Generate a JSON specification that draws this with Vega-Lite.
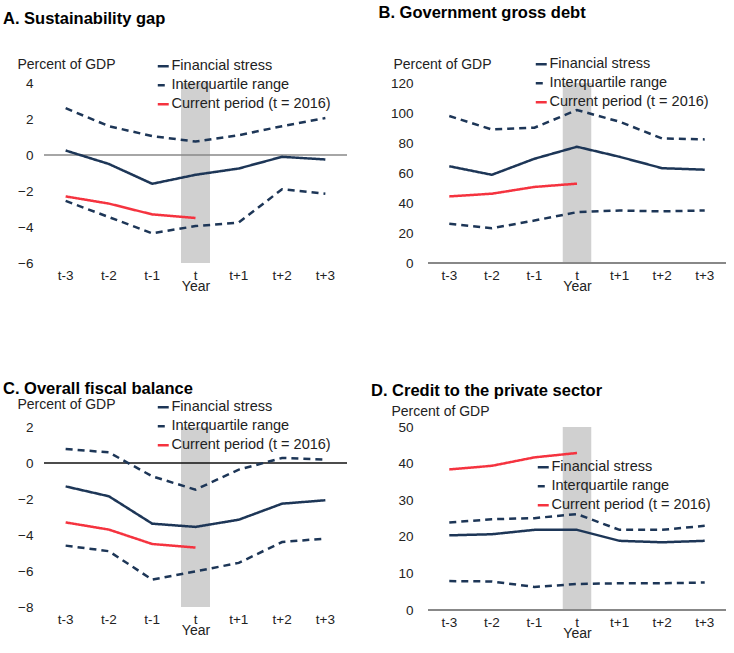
{
  "$schema": "https://vega.github.io/schema/vega-lite/v6.json",
  "background": "white",
  "padding": {"left": 3, "top": 4, "right": 5, "bottom": 5},
  "columns": 2,
  "spacing": {"row": 86, "column": 23},
  "resolve": {"legend": {"color": "independent", "strokeDash": "independent"}},
  "config": {
    "font": "Liberation Sans",
    "view": {"stroke": null},
    "title": {"fontSize": 16.5, "fontWeight": "bold", "anchor": "start", "frame": "bounds", "color": "#000"},
    "axis": {"labelFont": "Liberation Sans", "labelFontSize": 13.5, "labelColor": "#222", "titleFont": "Liberation Sans", "titleFontSize": 14, "titleFontWeight": "normal", "titleColor": "#222", "grid": false, "ticks": false, "domain": false, "labelOverlap": false, "labelFlush": false},
    "legend": {"labelFont": "Liberation Sans", "labelFontSize": 14.5, "labelColor": "#222", "symbolType": "stroke", "symbolStrokeWidth": 2.5, "symbolSize": 120, "rowPadding": 4, "labelOffset": 1, "title": null, "orient": "none"}
  },
  "datasets": {
    "A": [
      {"x": "t-3", "v": 0.25, "series": "Financial stress", "line": "fs"},
      {"x": "t-2", "v": -0.5, "series": "Financial stress", "line": "fs"},
      {"x": "t-1", "v": -1.6, "series": "Financial stress", "line": "fs"},
      {"x": "t", "v": -1.1, "series": "Financial stress", "line": "fs"},
      {"x": "t+1", "v": -0.75, "series": "Financial stress", "line": "fs"},
      {"x": "t+2", "v": -0.1, "series": "Financial stress", "line": "fs"},
      {"x": "t+3", "v": -0.25, "series": "Financial stress", "line": "fs"},
      {"x": "t-3", "v": 2.6, "series": "Interquartile range", "line": "up"},
      {"x": "t-2", "v": 1.6, "series": "Interquartile range", "line": "up"},
      {"x": "t-1", "v": 1.05, "series": "Interquartile range", "line": "up"},
      {"x": "t", "v": 0.75, "series": "Interquartile range", "line": "up"},
      {"x": "t+1", "v": 1.1, "series": "Interquartile range", "line": "up"},
      {"x": "t+2", "v": 1.6, "series": "Interquartile range", "line": "up"},
      {"x": "t+3", "v": 2.05, "series": "Interquartile range", "line": "up"},
      {"x": "t-3", "v": -2.55, "series": "Interquartile range", "line": "lo"},
      {"x": "t-2", "v": -3.45, "series": "Interquartile range", "line": "lo"},
      {"x": "t-1", "v": -4.35, "series": "Interquartile range", "line": "lo"},
      {"x": "t", "v": -3.95, "series": "Interquartile range", "line": "lo"},
      {"x": "t+1", "v": -3.75, "series": "Interquartile range", "line": "lo"},
      {"x": "t+2", "v": -1.9, "series": "Interquartile range", "line": "lo"},
      {"x": "t+3", "v": -2.15, "series": "Interquartile range", "line": "lo"},
      {"x": "t-3", "v": -2.3, "series": "Current period (t = 2016)", "line": "cur"},
      {"x": "t-2", "v": -2.7, "series": "Current period (t = 2016)", "line": "cur"},
      {"x": "t-1", "v": -3.3, "series": "Current period (t = 2016)", "line": "cur"},
      {"x": "t", "v": -3.5, "series": "Current period (t = 2016)", "line": "cur"}
    ],
    "B": [
      {"x": "t-3", "v": 64.5, "series": "Financial stress", "line": "fs"},
      {"x": "t-2", "v": 58.8, "series": "Financial stress", "line": "fs"},
      {"x": "t-1", "v": 69.5, "series": "Financial stress", "line": "fs"},
      {"x": "t", "v": 77.5, "series": "Financial stress", "line": "fs"},
      {"x": "t+1", "v": 70.8, "series": "Financial stress", "line": "fs"},
      {"x": "t+2", "v": 63.2, "series": "Financial stress", "line": "fs"},
      {"x": "t+3", "v": 62.2, "series": "Financial stress", "line": "fs"},
      {"x": "t-3", "v": 98, "series": "Interquartile range", "line": "up"},
      {"x": "t-2", "v": 89, "series": "Interquartile range", "line": "up"},
      {"x": "t-1", "v": 90.2, "series": "Interquartile range", "line": "up"},
      {"x": "t", "v": 102, "series": "Interquartile range", "line": "up"},
      {"x": "t+1", "v": 94.2, "series": "Interquartile range", "line": "up"},
      {"x": "t+2", "v": 83, "series": "Interquartile range", "line": "up"},
      {"x": "t+3", "v": 82.4, "series": "Interquartile range", "line": "up"},
      {"x": "t-3", "v": 26.1, "series": "Interquartile range", "line": "lo"},
      {"x": "t-2", "v": 23.2, "series": "Interquartile range", "line": "lo"},
      {"x": "t-1", "v": 28.3, "series": "Interquartile range", "line": "lo"},
      {"x": "t", "v": 33.9, "series": "Interquartile range", "line": "lo"},
      {"x": "t+1", "v": 35, "series": "Interquartile range", "line": "lo"},
      {"x": "t+2", "v": 34.4, "series": "Interquartile range", "line": "lo"},
      {"x": "t+3", "v": 35, "series": "Interquartile range", "line": "lo"},
      {"x": "t-3", "v": 44.4, "series": "Current period (t = 2016)", "line": "cur"},
      {"x": "t-2", "v": 46.2, "series": "Current period (t = 2016)", "line": "cur"},
      {"x": "t-1", "v": 50.7, "series": "Current period (t = 2016)", "line": "cur"},
      {"x": "t", "v": 52.9, "series": "Current period (t = 2016)", "line": "cur"}
    ],
    "C": [
      {"x": "t-3", "v": -1.3, "series": "Financial stress", "line": "fs"},
      {"x": "t-2", "v": -1.85, "series": "Financial stress", "line": "fs"},
      {"x": "t-1", "v": -3.37, "series": "Financial stress", "line": "fs"},
      {"x": "t", "v": -3.55, "series": "Financial stress", "line": "fs"},
      {"x": "t+1", "v": -3.15, "series": "Financial stress", "line": "fs"},
      {"x": "t+2", "v": -2.26, "series": "Financial stress", "line": "fs"},
      {"x": "t+3", "v": -2.07, "series": "Financial stress", "line": "fs"},
      {"x": "t-3", "v": 0.78, "series": "Interquartile range", "line": "up"},
      {"x": "t-2", "v": 0.59, "series": "Interquartile range", "line": "up"},
      {"x": "t-1", "v": -0.74, "series": "Interquartile range", "line": "up"},
      {"x": "t", "v": -1.48, "series": "Interquartile range", "line": "up"},
      {"x": "t+1", "v": -0.37, "series": "Interquartile range", "line": "up"},
      {"x": "t+2", "v": 0.28, "series": "Interquartile range", "line": "up"},
      {"x": "t+3", "v": 0.19, "series": "Interquartile range", "line": "up"},
      {"x": "t-3", "v": -4.59, "series": "Interquartile range", "line": "lo"},
      {"x": "t-2", "v": -4.9, "series": "Interquartile range", "line": "lo"},
      {"x": "t-1", "v": -6.48, "series": "Interquartile range", "line": "lo"},
      {"x": "t", "v": -6.02, "series": "Interquartile range", "line": "lo"},
      {"x": "t+1", "v": -5.55, "series": "Interquartile range", "line": "lo"},
      {"x": "t+2", "v": -4.39, "series": "Interquartile range", "line": "lo"},
      {"x": "t+3", "v": -4.2, "series": "Interquartile range", "line": "lo"},
      {"x": "t-3", "v": -3.3, "series": "Current period (t = 2016)", "line": "cur"},
      {"x": "t-2", "v": -3.7, "series": "Current period (t = 2016)", "line": "cur"},
      {"x": "t-1", "v": -4.5, "series": "Current period (t = 2016)", "line": "cur"},
      {"x": "t", "v": -4.7, "series": "Current period (t = 2016)", "line": "cur"}
    ],
    "D": [
      {"x": "t-3", "v": 20.4, "series": "Financial stress", "line": "fs"},
      {"x": "t-2", "v": 20.7, "series": "Financial stress", "line": "fs"},
      {"x": "t-1", "v": 21.9, "series": "Financial stress", "line": "fs"},
      {"x": "t", "v": 21.9, "series": "Financial stress", "line": "fs"},
      {"x": "t+1", "v": 18.9, "series": "Financial stress", "line": "fs"},
      {"x": "t+2", "v": 18.5, "series": "Financial stress", "line": "fs"},
      {"x": "t+3", "v": 18.9, "series": "Financial stress", "line": "fs"},
      {"x": "t-3", "v": 23.9, "series": "Interquartile range", "line": "up"},
      {"x": "t-2", "v": 24.8, "series": "Interquartile range", "line": "up"},
      {"x": "t-1", "v": 25.1, "series": "Interquartile range", "line": "up"},
      {"x": "t", "v": 26.2, "series": "Interquartile range", "line": "up"},
      {"x": "t+1", "v": 21.9, "series": "Interquartile range", "line": "up"},
      {"x": "t+2", "v": 21.9, "series": "Interquartile range", "line": "up"},
      {"x": "t+3", "v": 23, "series": "Interquartile range", "line": "up"},
      {"x": "t-3", "v": 7.9, "series": "Interquartile range", "line": "lo"},
      {"x": "t-2", "v": 7.8, "series": "Interquartile range", "line": "lo"},
      {"x": "t-1", "v": 6.3, "series": "Interquartile range", "line": "lo"},
      {"x": "t", "v": 7.1, "series": "Interquartile range", "line": "lo"},
      {"x": "t+1", "v": 7.3, "series": "Interquartile range", "line": "lo"},
      {"x": "t+2", "v": 7.3, "series": "Interquartile range", "line": "lo"},
      {"x": "t+3", "v": 7.5, "series": "Interquartile range", "line": "lo"},
      {"x": "t-3", "v": 38.4, "series": "Current period (t = 2016)", "line": "cur"},
      {"x": "t-2", "v": 39.4, "series": "Current period (t = 2016)", "line": "cur"},
      {"x": "t-1", "v": 41.7, "series": "Current period (t = 2016)", "line": "cur"},
      {"x": "t", "v": 42.9, "series": "Current period (t = 2016)", "line": "cur"}
    ]
  },
  "concat": [
    {
      "title": {"text": "A. Sustainability gap", "dx": -14, "offset": 30},
      "width": 303, "height": 180,
      "layer": [
        {"data": {"values": [{"x": "t", "lo": -6, "hi": 4}]},
         "mark": {"type": "bar", "color": "#d0d0d0", "width": {"band": 0.67}},
         "encoding": {
           "x": {"field": "x", "type": "ordinal", "scale": {"type": "band", "domain": ["t-3","t-2","t-1","t","t+1","t+2","t+3"], "paddingInner": 0, "paddingOuter": 0}, "axis": {"title": "Year", "labelAngle": 0, "labelPadding": 5, "titlePadding": -2}},
           "y": {"field": "lo", "type": "quantitative", "scale": {"domain": [-6, 4], "nice": false}, "axis": {"values": [-6,-4,-2,0,2,4], "tickCount": 12, "labelOverlap": false, "labelPadding": 11, "title": "Percent of GDP", "titleAngle": 0, "titleAlign": "left", "titleBaseline": "bottom", "titleX": -27, "titleY": -12}},
           "y2": {"field": "hi"}
         }},
        {"data": {"values": [{"z": 0}]},
         "mark": {"type": "rule", "color": "#888", "strokeWidth": 1.5},
         "encoding": {"y": {"field": "z", "type": "quantitative"}}},
        {"data": {"name": "A"},
         "mark": {"type": "line", "strokeWidth": 2.5},
         "encoding": {
           "x": {"field": "x", "type": "ordinal", "bandPosition": 0.5},
           "y": {"field": "v", "type": "quantitative"},
           "detail": {"field": "line"},
           "color": {"field": "series", "type": "nominal", "scale": {"domain": ["Financial stress","Interquartile range","Current period (t = 2016)"], "range": ["#1d3657","#1d3657","#f5333f"]}, "legend": {"legendX": 112, "legendY": -24}},
           "strokeDash": {"field": "series", "type": "nominal", "scale": {"domain": ["Financial stress","Interquartile range","Current period (t = 2016)"], "range": [[1,0],[7,5],[1,0]]}, "legend": {"legendX": 112, "legendY": -24}}
         }}
      ]
    },
    {
      "title": {"text": "B. Government gross debt", "dx": -12, "offset": 36},
      "width": 298, "height": 180,
      "layer": [
        {"data": {"values": [{"x": "t", "lo": 0, "hi": 120}]},
         "mark": {"type": "bar", "color": "#d0d0d0", "width": {"band": 0.67}},
         "encoding": {
           "x": {"field": "x", "type": "ordinal", "scale": {"type": "band", "domain": ["t-3","t-2","t-1","t","t+1","t+2","t+3"], "paddingInner": 0, "paddingOuter": 0}, "axis": {"title": "Year", "labelAngle": 0, "labelPadding": 5, "titlePadding": -2}},
           "y": {"field": "lo", "type": "quantitative", "scale": {"domain": [0, 120], "nice": false}, "axis": {"values": [0,20,40,60,80,100,120], "tickCount": 14, "labelOverlap": false, "labelPadding": 15, "title": "Percent of GDP", "titleAngle": 0, "titleAlign": "left", "titleBaseline": "bottom", "titleX": -35, "titleY": -12}},
           "y2": {"field": "hi"}
         }},
        {"data": {"values": [{"z": 0}]},
         "mark": {"type": "rule", "color": "#888", "strokeWidth": 2},
         "encoding": {"y": {"field": "z", "type": "quantitative"}}},
        {"data": {"name": "B"},
         "mark": {"type": "line", "strokeWidth": 2.5},
         "encoding": {
           "x": {"field": "x", "type": "ordinal", "bandPosition": 0.5},
           "y": {"field": "v", "type": "quantitative"},
           "detail": {"field": "line"},
           "color": {"field": "series", "type": "nominal", "scale": {"domain": ["Financial stress","Interquartile range","Current period (t = 2016)"], "range": ["#1d3657","#1d3657","#f5333f"]}, "legend": {"legendX": 106, "legendY": -26}},
           "strokeDash": {"field": "series", "type": "nominal", "scale": {"domain": ["Financial stress","Interquartile range","Current period (t = 2016)"], "range": [[1,0],[7,5],[1,0]]}, "legend": {"legendX": 106, "legendY": -26}}
         }}
      ]
    },
    {
      "title": {"text": "C. Overall fiscal balance", "dx": -14, "offset": 0},
      "width": 303, "height": 180,
      "layer": [
        {"data": {"values": [{"x": "t", "lo": -8, "hi": 2}]},
         "mark": {"type": "bar", "color": "#d0d0d0", "width": {"band": 0.67}},
         "encoding": {
           "x": {"field": "x", "type": "ordinal", "scale": {"type": "band", "domain": ["t-3","t-2","t-1","t","t+1","t+2","t+3"], "paddingInner": 0, "paddingOuter": 0}, "axis": {"title": "Year", "labelAngle": 0, "labelPadding": 5, "titlePadding": -2}},
           "y": {"field": "lo", "type": "quantitative", "scale": {"domain": [-8, 2], "nice": false}, "axis": {"values": [-8,-6,-4,-2,0,2], "tickCount": 12, "labelOverlap": false, "labelPadding": 11, "title": "Percent of GDP", "titleAngle": 0, "titleAlign": "left", "titleBaseline": "bottom", "titleX": -27, "titleY": -16}},
           "y2": {"field": "hi"}
         }},
        {"data": {"values": [{"z": 0}]},
         "mark": {"type": "rule", "color": "#111", "strokeWidth": 1.5},
         "encoding": {"y": {"field": "z", "type": "quantitative"}}},
        {"data": {"name": "C"},
         "mark": {"type": "line", "strokeWidth": 2.5},
         "encoding": {
           "x": {"field": "x", "type": "ordinal", "bandPosition": 0.5},
           "y": {"field": "v", "type": "quantitative"},
           "detail": {"field": "line"},
           "color": {"field": "series", "type": "nominal", "scale": {"domain": ["Financial stress","Interquartile range","Current period (t = 2016)"], "range": ["#1d3657","#1d3657","#f5333f"]}, "legend": {"legendX": 112, "legendY": -27}},
           "strokeDash": {"field": "series", "type": "nominal", "scale": {"domain": ["Financial stress","Interquartile range","Current period (t = 2016)"], "range": [[1,0],[7,5],[1,0]]}, "legend": {"legendX": 112, "legendY": -27}}
         }}
      ]
    },
    {
      "title": {"text": "D. Credit to the private sector", "dx": -20, "offset": 5},
      "width": 298, "height": 183,
      "layer": [
        {"data": {"values": [{"x": "t", "lo": 0, "hi": 50}]},
         "mark": {"type": "bar", "color": "#d0d0d0", "width": {"band": 0.67}},
         "encoding": {
           "x": {"field": "x", "type": "ordinal", "scale": {"type": "band", "domain": ["t-3","t-2","t-1","t","t+1","t+2","t+3"], "paddingInner": 0, "paddingOuter": 0}, "axis": {"title": "Year", "labelAngle": 0, "labelPadding": 5, "titlePadding": -2}},
           "y": {"field": "lo", "type": "quantitative", "scale": {"domain": [0, 50], "nice": false}, "axis": {"values": [0,10,20,30,40,50], "tickCount": 12, "labelOverlap": false, "labelPadding": 15, "title": "Percent of GDP", "titleAngle": 0, "titleAlign": "left", "titleBaseline": "bottom", "titleX": -37, "titleY": -9}},
           "y2": {"field": "hi"}
         }},
        {"data": {"values": [{"z": 0}]},
         "mark": {"type": "rule", "color": "#888", "strokeWidth": 2},
         "encoding": {"y": {"field": "z", "type": "quantitative"}}},
        {"data": {"name": "D"},
         "mark": {"type": "line", "strokeWidth": 2.5},
         "encoding": {
           "x": {"field": "x", "type": "ordinal", "bandPosition": 0.5},
           "y": {"field": "v", "type": "quantitative"},
           "detail": {"field": "line"},
           "color": {"field": "series", "type": "nominal", "scale": {"domain": ["Financial stress","Interquartile range","Current period (t = 2016)"], "range": ["#1d3657","#1d3657","#f5333f"]}, "legend": {"legendX": 108, "legendY": 33}},
           "strokeDash": {"field": "series", "type": "nominal", "scale": {"domain": ["Financial stress","Interquartile range","Current period (t = 2016)"], "range": [[1,0],[7,5],[1,0]]}, "legend": {"legendX": 108, "legendY": 33}}
         }}
      ]
    }
  ]
}
